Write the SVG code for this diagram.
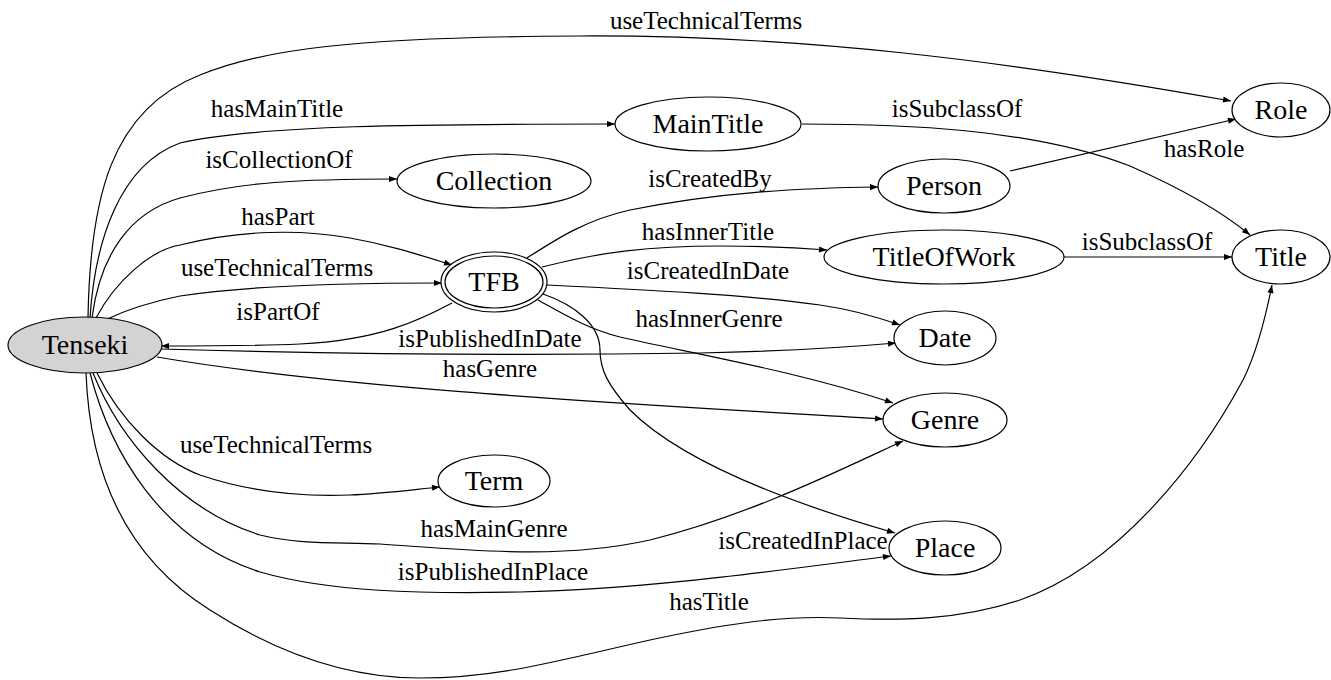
<svg xmlns="http://www.w3.org/2000/svg" width="1331" height="680" viewBox="0 0 1331 680">
<defs>
<marker id="a" viewBox="0 0 10 10" refX="10" refY="5" markerWidth="11" markerHeight="8" orient="auto" markerUnits="userSpaceOnUse"><path d="M0,1.2 L10,5 L0,8.8 z" fill="#000"/></marker>
<style>
.n ellipse{fill:#fff;stroke:#000;stroke-width:1.2}
.n text{font-size:28px;text-anchor:middle;fill:#000}
#edges path{fill:none;stroke:#000;stroke-width:1.2;marker-end:url(#a)}
#edges text{font-size:25px;text-anchor:middle;fill:#000}
</style>
</defs>
<rect width="1331" height="680" fill="#fff"/>
<g id="edges" font-family="Liberation Serif, DejaVu Serif, serif">
<path d="M88,318 C90,200 110,110 200,75 C260,50 350,37 580,36 C800,35 1000,60 1231,101"/>
<text x="706" y="29">useTechnicalTerms</text>
<path d="M90,318 C95,240 120,165 180,143 C260,125 420,124 615,124"/>
<text x="277" y="117">hasMainTitle</text>
<path d="M802,124 C900,124 1030,128 1130,166 C1180,188 1220,210 1250,235"/>
<text x="957" y="117">isSubclassOf</text>
<path d="M92,318 C100,255 130,212 180,198 C240,182 300,179 397,179"/>
<text x="279" y="168">isCollectionOf</text>
<path d="M96,318 C115,282 150,250 180,245 C240,230 300,229 350,238 C390,245 420,255 452,265"/>
<text x="278" y="225">hasPart</text>
<path d="M105,320 C130,308 160,300 180,296 C250,285 350,283 442,283"/>
<text x="277" y="276">useTechnicalTerms</text>
<path d="M452,303 C420,320 380,340 300,344 C250,346 200,346 161,346"/>
<text x="278" y="320">isPartOf</text>
<path d="M161,349 C300,353 500,356 700,353 C800,351 850,347 896,343"/>
<text x="490" y="347">isPublishedInDate</text>
<path d="M157,357 C350,390 650,405 883,419"/>
<text x="490" y="377">hasGenre</text>
<path d="M97,373 C120,420 160,460 200,475 C250,492 300,497 350,495 C380,494 410,490 440,487"/>
<text x="276" y="453">useTechnicalTerms</text>
<path d="M93,373 C120,440 180,510 260,535 C300,545 340,542 380,544 C470,550 560,560 650,540 C750,515 840,470 903,441"/>
<text x="494" y="537">hasMainGenre</text>
<path d="M90,373 C110,450 160,540 260,572 C330,592 420,594 520,592 C650,589 780,570 891,556"/>
<text x="493" y="580">isPublishedInPlace</text>
<path d="M86,373 C90,480 130,560 210,610 C280,655 350,678 420,678 C500,678 560,660 650,640 C720,625 780,615 840,618 C900,621 960,620 1020,600 C1120,565 1200,460 1243,380 C1258,350 1266,315 1272,285"/>
<text x="709" y="610">hasTitle</text>
<path d="M527,258 C555,240 585,220 630,210 C720,192 800,188 878,187"/>
<text x="710" y="187">isCreatedBy</text>
<path d="M542,267 C600,252 650,246 720,246 C770,246 800,248 827,250"/>
<text x="708" y="240">hasInnerTitle</text>
<path d="M1064,257 L1232,257"/>
<text x="1147" y="250">isSubclassOf</text>
<path d="M1010,171 L1236,119"/>
<text x="1204" y="157">hasRole</text>
<path d="M547,285 C650,290 750,295 820,305 C855,310 880,318 900,325"/>
<text x="708" y="279">isCreatedInDate</text>
<path d="M538,300 C560,312 585,328 620,337 C700,355 800,372 893,403"/>
<text x="709" y="327">hasInnerGenre</text>
<path d="M543,294 C575,305 600,325 600,350 C600,370 608,385 630,410 C680,460 780,500 895,533"/>
<text x="803" y="549">isCreatedInPlace</text>
</g>
<g id="nodes" font-family="Liberation Serif, DejaVu Serif, serif">
<g id="Tenseki" class="n"><ellipse cx="85" cy="345" rx="77" ry="28" style="fill:#d3d3d3"/><text x="85" y="354">Tenseki</text></g>
<g id="TFB" class="n"><ellipse cx="494" cy="282" rx="53" ry="30"/><ellipse cx="494" cy="282" rx="49" ry="26"/><text x="494" y="291">TFB</text></g>
<g id="MainTitle" class="n"><ellipse cx="708" cy="124" rx="93" ry="27"/><text x="708" y="133">MainTitle</text></g>
<g id="Collection" class="n"><ellipse cx="494" cy="181" rx="97" ry="27"/><text x="494" y="190">Collection</text></g>
<g id="Role" class="n"><ellipse cx="1281" cy="110" rx="49" ry="27"/><text x="1281" y="119">Role</text></g>
<g id="Title" class="n"><ellipse cx="1281" cy="257" rx="49" ry="27"/><text x="1281" y="266">Title</text></g>
<g id="Person" class="n"><ellipse cx="944" cy="186" rx="66" ry="27"/><text x="944" y="195">Person</text></g>
<g id="TitleOfWork" class="n"><ellipse cx="944" cy="257" rx="120" ry="27"/><text x="944" y="266">TitleOfWork</text></g>
<g id="Date" class="n"><ellipse cx="945" cy="338" rx="51" ry="27"/><text x="945" y="347">Date</text></g>
<g id="Genre" class="n"><ellipse cx="945" cy="420" rx="62" ry="27"/><text x="945" y="429">Genre</text></g>
<g id="Term" class="n"><ellipse cx="494" cy="481" rx="56" ry="26"/><text x="494" y="490">Term</text></g>
<g id="Place" class="n"><ellipse cx="945" cy="548" rx="56" ry="27"/><text x="945" y="557">Place</text></g>
</g>
</svg>
